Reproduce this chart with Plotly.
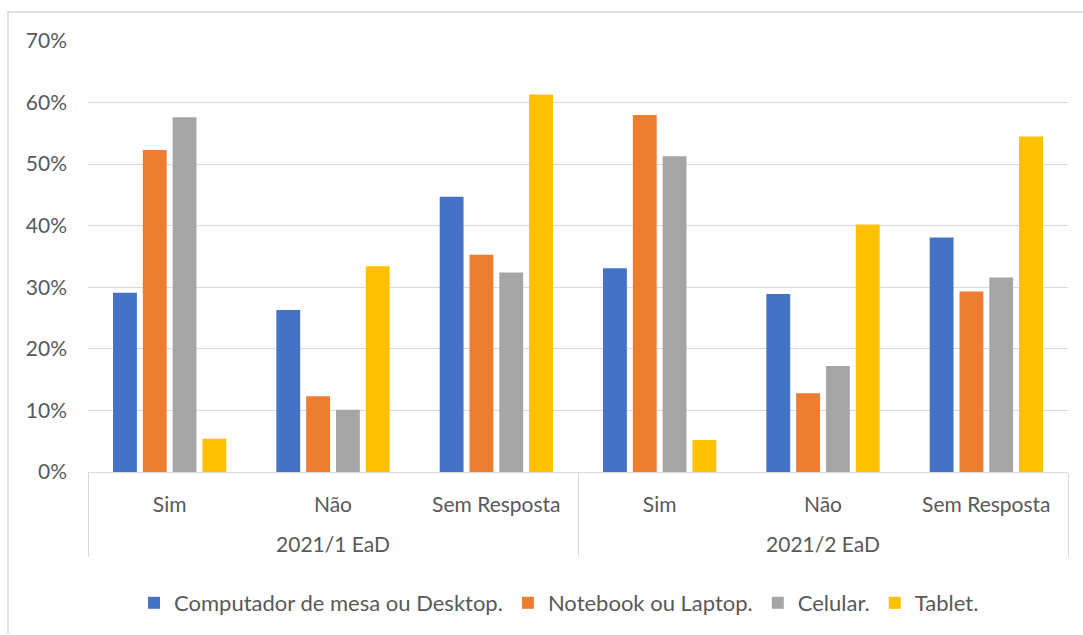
import plotly.graph_objects as go

# Survey groups (outer level) and answers (inner level)
semesters = ["2021/1 EaD", "2021/1 EaD", "2021/1 EaD", "2021/2 EaD", "2021/2 EaD", "2021/2 EaD"]
answers = ["Sim", "Não", "Sem Resposta", "Sim", "Não", "Sem Resposta"]

# Share of respondents per device
desktop = [0.291, 0.263, 0.447, 0.331, 0.289, 0.381]
notebook = [0.523, 0.123, 0.353, 0.580, 0.128, 0.293]
celular = [0.576, 0.101, 0.324, 0.513, 0.172, 0.316]
tablet = [0.054, 0.334, 0.613, 0.052, 0.402, 0.545]

series_names = ["Computador de mesa ou Desktop.", "Notebook ou Laptop.", "Celular.", "Tablet."]
series_values = [desktop, notebook, celular, tablet]
series_colors = ["#4472C4", "#ED7D31", "#A5A5A5", "#FFC000"]

TEXT = "#595959"
GRID = "#D9D9D9"
FONT = "Lato"
FS = 21

# Inner labels get an empty second line so the outer level sits lower
inner_labels = [a + "<br> " for a in answers]

fig = go.Figure()
for name, vals, color in zip(series_names, series_values, series_colors):
    fig.add_trace(go.Bar(
        x=[semesters, inner_labels],
        y=vals,
        name=name,
        marker=dict(color=color, line=dict(width=0)),
    ))

W, H = 1083, 635
L, R, T, B = 88, 15, 41, 162
pw, ph = W - L - R, H - T - B


def px_x(p):
    return (p - L) / pw


def px_y(p):
    return (H - B - p) / ph


# Chart-area frame (top and left edges)
fig.add_shape(type="line", xref="paper", yref="paper",
              x0=px_x(7), x1=px_x(W), y0=px_y(12), y1=px_y(12),
              line=dict(color=GRID, width=1.5))
fig.add_shape(type="line", xref="paper", yref="paper",
              x0=px_x(8), x1=px_x(8), y0=px_y(12), y1=px_y(H),
              line=dict(color=GRID, width=1.5))

fig.update_layout(
    width=W, height=H,
    margin=dict(l=L, r=R, t=T, b=B),
    paper_bgcolor="white",
    plot_bgcolor="white",
    barmode="group",
    bargap=0.27,
    bargroupgap=0.2,
    font=dict(family=FONT, size=FS, color=TEXT),
    showlegend=True,
    legend=dict(
        orientation="h",
        x=px_x(559), xanchor="center",
        y=px_y(603), yanchor="middle",
        font=dict(family=FONT, size=22, color=TEXT),
        itemwidth=30,
        traceorder="normal",
    ),
)

fig.update_xaxes(
    type="multicategory",
    automargin=False,
    showline=True, linecolor=GRID, linewidth=1,
    showdividers=True, dividercolor=GRID, dividerwidth=1,
    showgrid=False,
    ticks="",
    ticklabelstandoff=14,
    tickfont=dict(family=FONT, size=FS, color=TEXT),
)

fig.update_yaxes(
    range=[0, 0.7],
    dtick=0.1,
    tickformat=".0%",
    automargin=False,
    showgrid=True, gridcolor=GRID, gridwidth=1,
    zeroline=False,
    showline=False,
    ticks="",
    ticklabelstandoff=20,
    tickfont=dict(family=FONT, size=FS, color=TEXT),
)

fig.write_html("out.html")
